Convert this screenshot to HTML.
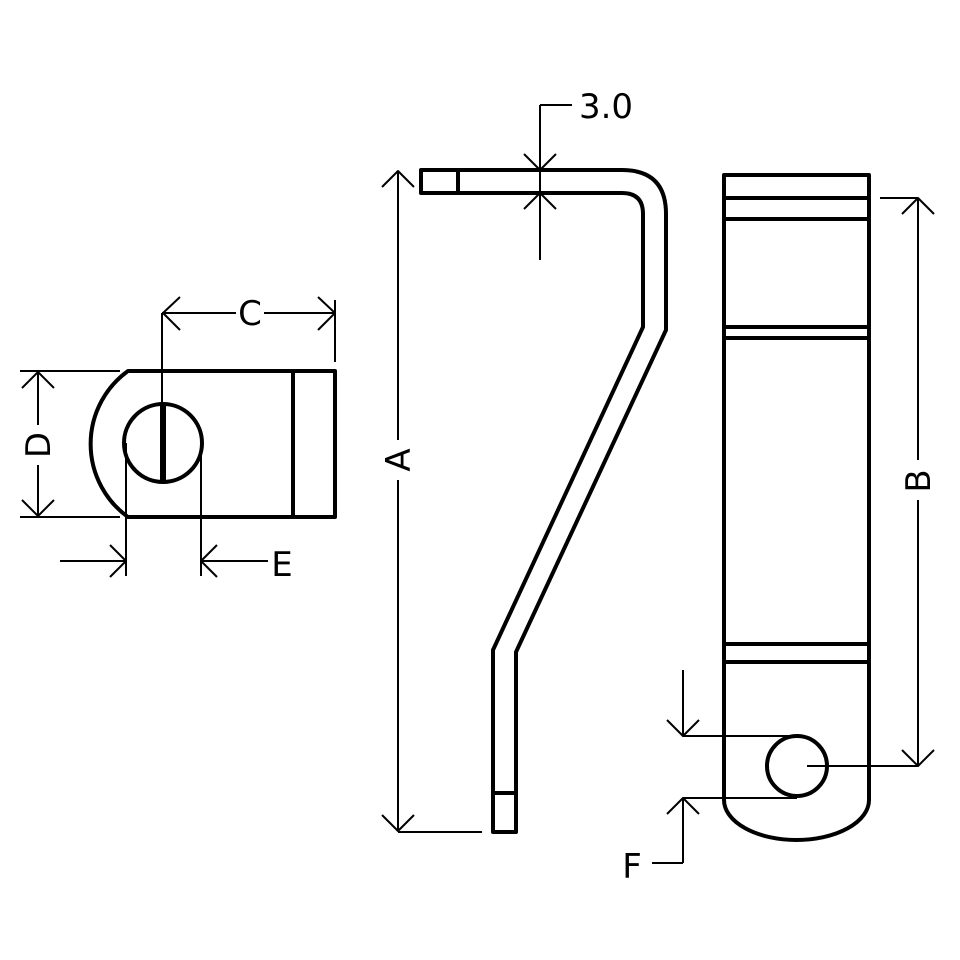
<!DOCTYPE html>
<html><head><style>
html,body{margin:0;padding:0;background:#fff;}
svg{display:block;}
text{font-family:"DejaVu Sans","Liberation Sans",sans-serif;font-size:34px;fill:#000;}
</style></head><body>
<svg width="960" height="960" viewBox="0 0 960 960" xmlns="http://www.w3.org/2000/svg">
<g fill="none" stroke="#000" stroke-linejoin="round">
<!-- Left view -->
<g stroke-width="4">
<path d="M128,371 H335 V517 H128 A90,90 0 0 1 128,371 Z"/>
<line x1="293" y1="371" x2="293" y2="517"/>
<circle cx="163" cy="443" r="39"/>
</g>
<line x1="163" y1="405" x2="163" y2="481" stroke-width="6"/>
<g stroke-width="2">
<line x1="162" y1="313" x2="162" y2="405"/>
<line x1="335" y1="300" x2="335" y2="362"/>
<line x1="162" y1="313" x2="236" y2="313"/>
<line x1="264" y1="313" x2="335" y2="313"/>
<polyline points="180,297 163,313 180,330"/>
<polyline points="318,297 335,313 318,330"/>
<line x1="20" y1="371" x2="120" y2="371"/>
<line x1="20" y1="517" x2="120" y2="517"/>
<line x1="38" y1="371" x2="38" y2="425"/>
<line x1="38" y1="465" x2="38" y2="517"/>
<polyline points="22,388 38,372 54,388"/>
<polyline points="22,500 38,516 54,500"/>
<line x1="126" y1="443" x2="126" y2="576"/>
<line x1="201" y1="443" x2="201" y2="576"/>
<line x1="60" y1="561" x2="126" y2="561"/>
<polyline points="110,545 126,561 110,577"/>
<line x1="201" y1="561" x2="268" y2="561"/>
<polyline points="217,545 201,561 217,577"/>
</g>
<!-- Middle profile -->
<g stroke-width="4">
<path d="M458,170 H622 Q666,170 666,214 V330 L516,652 V832 H493 V650 L643,327 V214 Q643,193 622,193 H458"/>
<rect x="421" y="170" width="37" height="23"/>
<line x1="493" y1="793" x2="516" y2="793"/>
</g>
<g stroke-width="2">
<line x1="398" y1="171" x2="398" y2="440"/>
<line x1="398" y1="480" x2="398" y2="831"/>
<polyline points="382,187 398,171 414,187"/>
<polyline points="382,815 398,831 414,815"/>
<line x1="398" y1="832" x2="482" y2="832"/>
<line x1="540" y1="105" x2="540" y2="260"/>
<line x1="540" y1="105" x2="572" y2="105"/>
<polyline points="524,154 540,170 556,154"/>
<polyline points="524,209 540,193 556,209"/>
</g>
<!-- Right view -->
<g stroke-width="4">
<path d="M724,175 H869 V800 A72.5,40 0 0 1 724,800 Z"/>
<line x1="724" y1="198" x2="869" y2="198"/>
<line x1="724" y1="219" x2="869" y2="219"/>
<line x1="724" y1="327" x2="869" y2="327"/>
<line x1="724" y1="338" x2="869" y2="338"/>
<line x1="724" y1="644" x2="869" y2="644"/>
<line x1="724" y1="662" x2="869" y2="662"/>
<circle cx="797" cy="766" r="30"/>
</g>
<g stroke-width="2">
<line x1="880" y1="198" x2="918" y2="198"/>
<line x1="918" y1="198" x2="918" y2="460"/>
<line x1="918" y1="500" x2="918" y2="766"/>
<polyline points="902,214 918,198 934,214"/>
<polyline points="902,750 918,766 934,750"/>
<line x1="807" y1="766" x2="918" y2="766"/>
<line x1="683" y1="736" x2="797" y2="736"/>
<line x1="683" y1="798" x2="797" y2="798"/>
<line x1="683" y1="670" x2="683" y2="736"/>
<polyline points="667,720 683,736 699,720"/>
<line x1="683" y1="798" x2="683" y2="863"/>
<polyline points="667,814 683,798 699,814"/>
<line x1="683" y1="863" x2="652" y2="863"/>
</g>
</g>
<text x="250" y="325" text-anchor="middle">C</text>
<text transform="translate(50,445) rotate(-90)" text-anchor="middle">D</text>
<text x="282" y="576" text-anchor="middle">E</text>
<text transform="translate(410,460) rotate(-90)" text-anchor="middle">A</text>
<text x="606" y="118" text-anchor="middle">3.0</text>
<text transform="translate(930,481) rotate(-90)" text-anchor="middle">B</text>
<text x="632" y="878" text-anchor="middle">F</text>
</svg>
</body></html>
